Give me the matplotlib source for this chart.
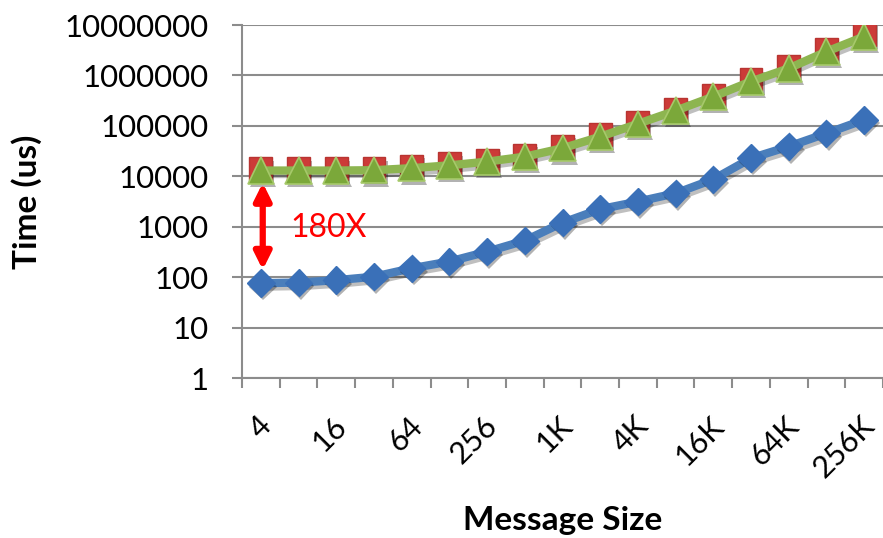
import matplotlib
matplotlib.use("Agg")
import matplotlib.pyplot as plt
import matplotlib.patheffects as pe
import matplotlib.transforms as mtransforms
import numpy as np

plt.rcParams['font.family'] = ['Lato', 'DejaVu Sans']

sizes = ["4", "8", "16", "32", "64", "128", "256", "512", "1K", "2K", "4K",
         "8K", "16K", "32K", "64K", "128K", "256K"]
blue_vals = [76, 78, 87, 102, 150, 204, 320, 530, 1200, 2230, 3150, 4600,
             8700, 22800, 39000, 71000, 132000]
red_vals = [14000, 14000, 14000, 14200, 15800, 17800, 20800, 26000, 39000,
            66000, 117000, 215000, 400000, 820000, 1500000, 3200000, 6600000]
green_vals = [13000, 13000, 13000, 13200, 14500, 16500, 19500, 24500, 36000,
              61000, 110000, 200000, 380000, 760000, 1380000, 2970000, 5900000]
ytick_vals = [1, 10, 100, 1000, 10000, 100000, 1000000, 10000000]
annot_text = "180X"

fig = plt.figure(figsize=(8.83, 5.38), dpi=100)
ax = fig.add_axes([242/883, 1-378/538, 641/883, (378-25)/538])

x = np.arange(len(sizes))
line_sh = [pe.SimpleLineShadow(offset=(1.5, -2.5), shadow_color='black', alpha=0.25), pe.Normal()]
mark_sh = [pe.SimplePatchShadow(offset=(1.5, -2.5), shadow_rgbFace='black', alpha=0.3), pe.Normal()]

# red series
ax.plot(x, red_vals, color='#C9403D', lw=2, zorder=3)
ax.plot(x, red_vals, ls='none', marker='s', ms=16.5, mfc='#CC3B38', mec='#B83431',
        mew=1, zorder=3, path_effects=mark_sh)
# green series
ax.plot(x, green_vals, color='#8DB550', lw=6, zorder=4, path_effects=line_sh)
ax.plot(x, green_vals, ls='none', marker='^', ms=19, mfc='#7BA83A', mec='#A6C96A',
        mew=1.2, zorder=4, path_effects=mark_sh)
# blue series
ax.plot(x, blue_vals, color='#4A7EBB', lw=6, zorder=4, path_effects=line_sh)
ax.plot(x, blue_vals, ls='none', marker='D', ms=14, mfc='#3A70B8', mec='#3A70B8',
        mew=1, zorder=4, path_effects=mark_sh)

ax.set_yscale('log')
ax.set_ylim(1, 1e7)
ax.set_xlim(-0.5, len(sizes) - 0.5)

ax.set_yticks(ytick_vals)
ax.set_yticklabels([str(v) for v in ytick_vals])
ax.yaxis.set_minor_locator(matplotlib.ticker.NullLocator())
ax.tick_params(axis='y', length=7, width=1.5, color='#8C8C8C', pad=17,
               labelsize=22.5, direction='out')

major = x[::2]
ax.set_xticks(major)
ax.set_xticklabels([sizes[i] for i in major], rotation=45, ha='right',
                   va='top', rotation_mode='anchor')
ax.set_xticks(np.arange(-0.5, len(sizes)), minor=True)
ax.tick_params(axis='x', which='major', length=0, pad=24, labelsize=22)
ax.tick_params(axis='x', which='minor', length=7, width=1.5, color='#8C8C8C',
               direction='out')
for lbl in ax.get_xticklabels():
    lbl.set_transform(lbl.get_transform() + mtransforms.ScaledTranslation(-0.04, 0, fig.dpi_scale_trans))

ax.grid(axis='y', color='#8C8C8C', lw=1.5)
ax.set_axisbelow(True)
for s in ['top', 'right']:
    ax.spines[s].set_visible(False)
for s in ['left', 'bottom']:
    ax.spines[s].set_color('#8C8C8C')
    ax.spines[s].set_linewidth(1.5)

ax.set_ylabel("Time (us)", fontsize=24, fontweight='bold')
ax.set_xlabel("Message Size", fontsize=24, fontweight='bold')
ax.yaxis.set_label_coords((42-242)/641, 0.5)
ax.xaxis.set_label_coords((563-242)/641, -(506-378)/353)

ax.annotate("", xy=(0.05, 140), xytext=(0.05, 7400),
            arrowprops=dict(arrowstyle='<|-|>', color='#FF0000', lw=4.5,
                            mutation_scale=25, shrinkA=0, shrinkB=0),
            zorder=5)
ax.text(0.77, 940, annot_text, color='#FF0000', fontsize=23, va='center', ha='left')

fig.savefig("out.png", dpi=100)
